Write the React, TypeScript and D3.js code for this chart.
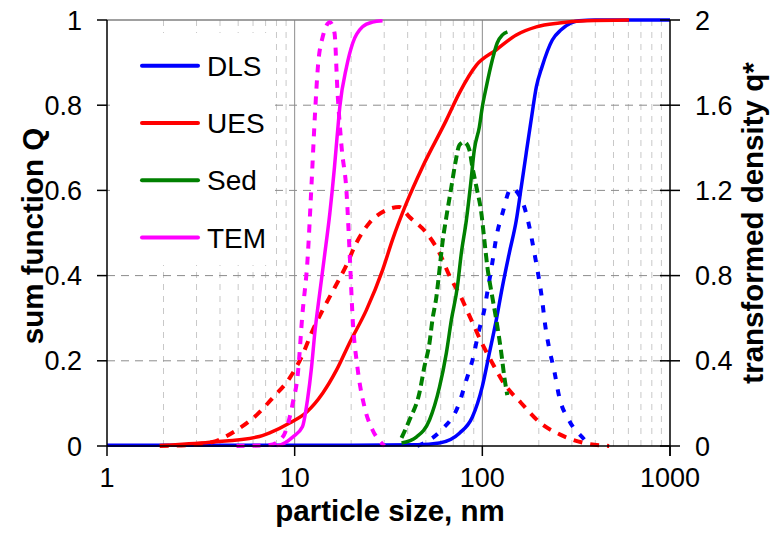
import React from "react";
import * as d3 from "d3";

const W = 772;
const H = 545;

// x: particle size (nm), log scale; ticks
const xTicks = [1, 10, 100, 1000];
const yLeftTicks = [0, 0.2, 0.4, 0.6, 0.8, 1];
const yRightTicks = [0, 0.4, 0.8, 1.2, 1.6, 2];

// sum function Q curves [size, Q]
const dlsQ: [number, number][] = [
  [1, 0.002], [20, 0.002], [45, 0.003], [59.1, 0.007], [75.5, 0.03], [88.5, 0.068], [100, 0.14],
  [109, 0.218], [118.7, 0.296], [127.8, 0.373], [139.2, 0.453], [151.7, 0.53], [161, 0.606],
  [171, 0.685], [182, 0.765], [194, 0.843], [208, 0.89], [236, 0.953], [263, 0.977],
  [297, 0.993], [328, 0.998], [400, 1], [1000, 1],
];
const uesQ: [number, number][] = [
  [1.91, 0.001], [3.53, 0.009], [6.28, 0.021], [7.36, 0.031], [9.4, 0.054], [11.6, 0.08],
  [14.1, 0.124], [16.7, 0.178], [19.6, 0.242], [24.1, 0.319], [29.4, 0.413], [33.2, 0.484],
  [39.4, 0.57], [48, 0.655], [64.3, 0.765], [75.5, 0.829], [93, 0.894], [118.7, 0.93],
  [151.7, 0.965], [194, 0.984], [257, 0.993], [357, 0.998], [605, 1],
];
const sedQ: [number, number][] = [
  [37.1, 0.007], [44.5, 0.021], [52.3, 0.061], [59.1, 0.138], [64.3, 0.218], [68.4, 0.296],
  [73.6, 0.373], [77.3, 0.453], [82.2, 0.53], [86.3, 0.608], [90.6, 0.695], [96.4, 0.749],
  [100, 0.796], [105, 0.843], [113, 0.906], [120, 0.946], [128, 0.965], [136, 0.972],
];
const temQ: [number, number][] = [
  [8.0, 0.001], [8.32, 0.002], [9.76, 0.021], [11.0, 0.045], [11.7, 0.108], [12.3, 0.185],
  [12.8, 0.265], [13.6, 0.359], [14.4, 0.444], [15.4, 0.547], [16.3, 0.655], [16.9, 0.735],
  [17.4, 0.796], [18.9, 0.89], [20.4, 0.946], [23.0, 0.984], [26.0, 0.995], [29.4, 0.998],
];

// transformed density q* curves [size, q*]
const dlsDens: [number, number][] = [
  [45, 0], [60.5, 0.075], [74.5, 0.19], [82.2, 0.31], [89.6, 0.42], [95.2, 0.53], [102.5, 0.64],
  [107.6, 0.75], [113, 0.86], [118.7, 0.98], [127.8, 1.09], [142.6, 1.21], [163, 1.15],
  [178, 1.03], [189, 0.91], [199, 0.8], [208, 0.69], [216, 0.57], [227, 0.46], [242, 0.35],
  [257, 0.23], [290, 0.12], [357, 0.02], [371, 0],
];
const uesDens: [number, number][] = [
  [1.91, 0], [2.76, 0.005], [3.66, 0.019], [4.91, 0.075], [6.28, 0.146], [7.62, 0.225],
  [9.4, 0.319], [11.0, 0.427], [12.3, 0.531], [14.1, 0.638], [16.3, 0.742], [18.9, 0.85],
  [21.3, 0.953], [25.0, 1.047], [30.9, 1.108], [36.1, 1.122], [40.9, 1.075], [50.4, 1.0],
  [59.1, 0.906], [66.5, 0.803], [77.3, 0.695], [87.3, 0.592], [98.8, 0.488], [113, 0.39],
  [130, 0.296], [161, 0.202], [201, 0.113], [262, 0.052], [349, 0.014], [474, 0],
];
const sedDens: [number, number][] = [
  [37.1, 0.038], [40.9, 0.122], [46.2, 0.249], [49.1, 0.371], [52.3, 0.484], [54.2, 0.592],
  [56.9, 0.7], [59.1, 0.826], [61.3, 0.953], [64.3, 1.075], [68.4, 1.216], [71.8, 1.329],
  [75.5, 1.413], [80.2, 1.427], [85.3, 1.39], [88.5, 1.31], [93, 1.216], [98.8, 1.094],
  [102.5, 0.967], [106.4, 0.84], [113, 0.7], [118.7, 0.592], [126.2, 0.437], [131, 0.324],
  [135.8, 0.239],
];
const temDens: [number, number][] = [
  [4.9, 0], [7.36, 0.005], [8.63, 0.042], [9.76, 0.2], [10.4, 0.34], [11.0, 0.62], [11.7, 0.87],
  [12.3, 1.23], [12.8, 1.54], [13.3, 1.78], [14.1, 1.92], [15.4, 1.99], [16.3, 1.94],
  [16.9, 1.67], [17.8, 1.4], [18.9, 1.19], [19.6, 0.92], [20.4, 0.59], [21.6, 0.37],
  [23.6, 0.18], [26.0, 0.075], [29.0, 0.014], [30.1, 0],
];

const legendNames = ["DLS", "UES", "Sed", "TEM"];
const colors = ["#0000ff", "#ff0000", "#008000", "#ff00ff"];

const FONT = "'Liberation Sans', Arial, sans-serif";

export default function App() {
  const x = d3.scaleLog().domain([1, 1000]).range([107, 670]);
  const yQ = d3.scaleLinear().domain([0, 1]).range([446, 20]);
  const yD = d3.scaleLinear().domain([0, 2]).range([446, 20]);

  const lineQ = d3
    .line<[number, number]>()
    .x((d) => x(d[0]))
    .y((d) => yQ(d[1]))
    .curve(d3.curveMonotoneX);
  const lineD = d3
    .line<[number, number]>()
    .x((d) => x(d[0]))
    .y((d) => yD(d[1]))
    .curve(d3.curveMonotoneX);

  const minor: number[] = [];
  for (const dec of [1, 10, 100]) for (let k = 2; k <= 9; k++) minor.push(dec * k);

  const series = [
    { q: dlsQ, d: dlsDens, c: colors[0], dash: "7,10" },
    { q: uesQ, d: uesDens, c: colors[1], dash: "9,8" },
    { q: sedQ, d: sedDens, c: colors[2], dash: "9,5" },
    { q: temQ, d: temDens, c: colors[3], dash: "8,8" },
  ];

  const [x0, x1] = x.range();
  const yTop = yQ(1);
  const yBot = yQ(0);

  return (
    <svg
      width={W}
      height={H}
      style={{ position: "absolute", left: 0, top: 0, background: "#fff" }}
      fontFamily={FONT}
    >
      <rect x={0} y={0} width={W} height={H} fill="#fff" />
      {/* minor vertical grid */}
      {minor.map((v) => (
        <line
          key={"m" + v}
          x1={x(v)}
          x2={x(v)}
          y1={yTop}
          y2={yBot}
          stroke="#c8c8c8"
          strokeWidth={1}
          strokeDasharray="6,6"
        />
      ))}
      {/* major vertical grid */}
      {[10, 100].map((v) => (
        <line key={"M" + v} x1={x(v)} x2={x(v)} y1={yTop} y2={yBot} stroke="#8c8c8c" strokeWidth={1} />
      ))}
      {/* horizontal grid */}
      {yLeftTicks.slice(1, -1).map((v) => (
        <line
          key={"h" + v}
          x1={x0}
          x2={x1}
          y1={yQ(v)}
          y2={yQ(v)}
          stroke="#8c8c8c"
          strokeWidth={1}
          strokeDasharray="8,6"
        />
      ))}
      <line x1={x0} x2={x1} y1={yTop} y2={yTop} stroke="#808080" strokeWidth={1.5} />

      {/* legend background */}
      <rect x={110} y={33} width={163} height={232} fill="#fff" />

      {/* curves */}
      {series.map((s, i) => (
        <g key={"s" + i}>
          <path d={lineQ(s.q) || ""} fill="none" stroke={s.c} strokeWidth={3.5} strokeLinejoin="round" />
          <path
            d={lineD(s.d) || ""}
            fill="none"
            stroke={s.c}
            strokeWidth={4}
            strokeDasharray={s.dash}
          />
        </g>
      ))}

      {/* axes */}
      <line x1={x0} x2={x0} y1={yTop} y2={yBot} stroke="#000" strokeWidth={1.5} />
      <line x1={x1} x2={x1} y1={yTop} y2={yBot + 10} stroke="#000" strokeWidth={1.5} />
      <line x1={x0} x2={x1} y1={yBot} y2={yBot} stroke="#000" strokeWidth={1.5} />
      {xTicks.map((v) => (
        <g key={"xt" + v}>
          <line x1={x(v)} x2={x(v)} y1={yBot} y2={yBot + 10} stroke="#000" strokeWidth={1.5} />
          <text x={x(v)} y={487} textAnchor="middle" fontSize={27}>
            {v}
          </text>
        </g>
      ))}
      {yLeftTicks.map((v) => (
        <g key={"yl" + v}>
          <line x1={x0 - 10} x2={x0} y1={yQ(v)} y2={yQ(v)} stroke="#000" strokeWidth={1.5} />
          <text x={82} y={yQ(v) + 9.5} textAnchor="end" fontSize={27}>
            {String(v)}
          </text>
        </g>
      ))}
      {yRightTicks.map((v) => (
        <g key={"yr" + v}>
          <line x1={x1 - 10} x2={x1 + 10} y1={yD(v)} y2={yD(v)} stroke="#000" strokeWidth={1.5} />
          <text x={695} y={yD(v) + 9.5} textAnchor="start" fontSize={27}>
            {String(v)}
          </text>
        </g>
      ))}

      {/* axis titles */}
      <text x={390} y={521} textAnchor="middle" fontSize={29.5} fontWeight="bold">
        particle size, nm
      </text>
      <text
        transform={`translate(43,236) rotate(-90)`}
        textAnchor="middle"
        fontSize={29.5}
        fontWeight="bold"
      >
        sum function Q
      </text>
      <text
        transform={`translate(763,223) rotate(-90)`}
        textAnchor="middle"
        fontSize={29.5}
        fontWeight="bold"
      >
        transformed density q*
      </text>

      {/* legend */}
      {legendNames.map((n, i) => {
        const ly = 65.7 + i * 57.3;
        return (
          <g key={"lg" + n}>
            <line x1={142} x2={198} y1={ly} y2={ly} stroke={colors[i]} strokeWidth={4} strokeLinecap="round" />
            <text x={207} y={ly + 10} fontSize={28}>
              {n}
            </text>
          </g>
        );
      })}
    </svg>
  );
}
